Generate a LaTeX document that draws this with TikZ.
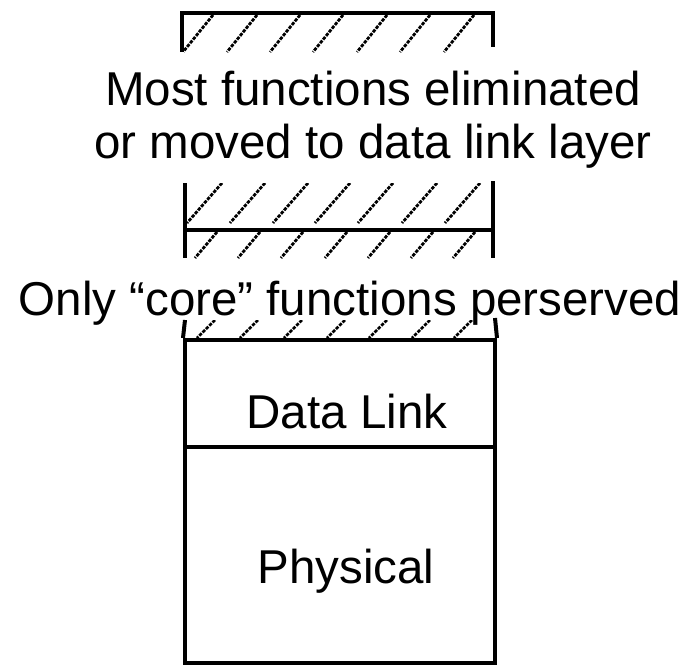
\documentclass[tikz,border=0pt]{standalone}
\usepackage{fontspec}
\setmainfont{Liberation Sans}
\begin{document}
\begin{tikzpicture}[x=1pt,y=-1pt,
  frame/.style={line width=4pt},
  hatchline/.style={line width=2.8pt, dash pattern=on 3.4pt off 1.3pt},
  lbl/.style={font=\fontsize{47.5}{53}\selectfont, inner sep=0pt, anchor=base},
  layerbox/.style={draw, frame, inner sep=0pt, minimum width=310pt}]
\useasboundingbox (0,0) rectangle (696,667);

% ---- top (mostly eliminated) layer
\coordinate (tbL) at (182,52);
\coordinate (tbR) at (493,47);
\draw[frame] (tbL) |- (493,13) -- (tbR);
\begin{scope}
  \clip (184,15) rectangle (491,52);
  \foreach \t in {213,257,300,343,387,430,474}
    \draw[hatchline] (\t,15) -- ++(-30,37);
\end{scope}

\node[lbl] (t1) at (373,105) {Most functions eliminated};
\node[lbl] (t2) at (373,158) {or moved to data link layer};

% ---- second (core) layer
\coordinate (b2tl) at (185,183);
\coordinate (b2bl) at (185,258);
\coordinate (b2tr) at (493,181);
\coordinate (b2br) at (493,258);
\coordinate (b2ml) at (185,230);
\coordinate (b2mr) at (493,230);
\draw[frame] (b2tl) -- (b2bl);
\draw[frame] (b2tr) -- (b2br);
\draw[frame] (b2ml) -- (b2mr);
\begin{scope}
  \clip (187,183) rectangle (491,228);
  \foreach \t in {222,265,308,350,393,437,480}
    \draw[hatchline] (\t,183) -- ++(-35,40);
\end{scope}
\begin{scope}
  \clip (187,232) rectangle (491,258);
  \foreach \t in {217,260,303,347,390,433,475}
    \draw[hatchline] (\t,232) -- ++(-22,26);
\end{scope}

\node[lbl] (t3) at (350,315) {Only “core” functions perserved};

% ---- data link and physical
\node[layerbox, minimum height=107pt] (dlbox) at (340,393.5) {};
\node[layerbox, minimum height=216pt] (phbox) at (340,555) {};
\coordinate (dlL) at (185,320);
\coordinate (dlR) at (495,318);
\draw[frame] (dlbox.north west) -- (dlL);
\draw[frame] (dlbox.north east) -- (dlR);
\begin{scope}
  \clip (187,320) rectangle (493,338);
  \foreach \t in {215,258,302,345,387,430,472}
    \draw[hatchline] (\t,320) -- ++(-18,18);
\end{scope}

\node[lbl] (dl) at (347,428) {Data Link};
\node[lbl] (ph) at (346,583) {Physical};
\end{tikzpicture}
\end{document}
